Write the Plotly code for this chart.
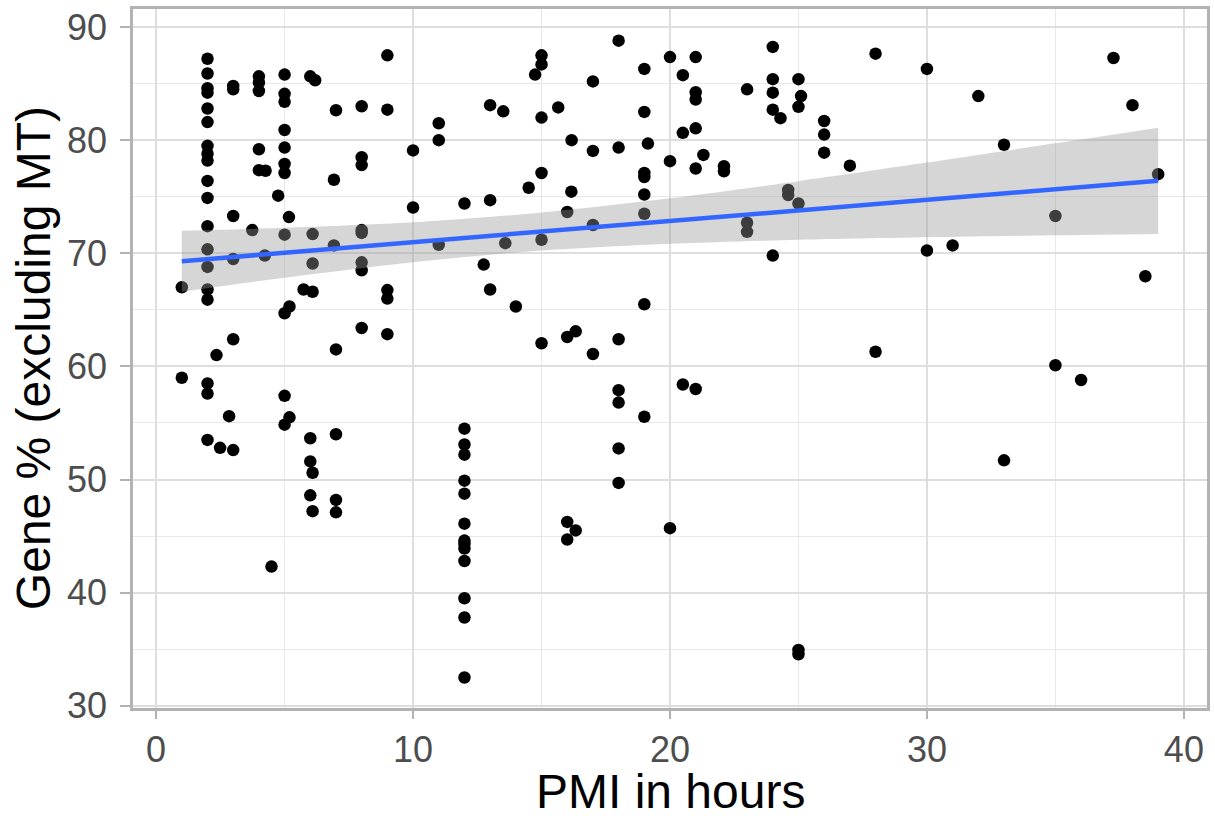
import numpy as np
import plotly.graph_objects as go

# PMI (hours) and Gene % (excluding MT)
PMI = [1, 1,
       2, 2, 2, 2, 2, 2, 2, 2, 2, 2, 2, 2, 2, 2, 2, 2, 2, 2, 2,
       2.35, 2.49, 2.84,
       3, 3, 3, 3, 3, 3,
       4, 4, 4, 4, 4, 4.26, 3.74, 4.23, 4.49,
       5, 5, 5, 5, 5, 5, 5, 5, 5, 5, 5, 4.75, 5.17, 5.19, 5.19,
       6, 6, 6, 6, 6.19, 6.09, 6.09, 6.09, 6.09, 6.09, 5.74,
       7, 7, 7, 7, 7, 6.92, 6.92,
       8, 8, 8, 8, 8, 8, 8, 8,
       9, 9, 9, 9, 9,
       10, 10,
       11, 11, 11,
       12, 12, 12, 12, 12, 12, 12, 12, 12, 12, 12, 12, 12, 12,
       12.75, 13, 13, 13, 13.51, 13.59, 14, 14.5, 14.75,
       15, 15, 15, 15, 15, 15,
       15.65, 16.17, 16.16, 16, 16, 16, 16, 16.33, 16.33,
       17, 17, 17, 17,
       18, 18, 18, 18, 18, 18, 18,
       19, 19, 19, 19, 19, 19, 19, 19, 19.14,
       20, 20, 20,
       20.5, 20.5, 20.5,
       21, 21, 21, 21, 21, 21, 21.3,
       22.1, 22.1,
       23, 23, 23,
       24, 24, 24, 24, 24, 24.3, 24.6, 24.6,
       25, 25, 25, 25, 25, 25.1,
       26, 26, 26,
       27,
       28, 28,
       30, 30,
       31,
       32,
       33, 33,
       35, 35,
       36,
       37.26,
       38,
       38.5,
       39]

GENE = [67.0, 59.0,
        87.2, 85.9, 84.6, 84.2, 82.8, 81.6, 79.5, 78.8, 78.2, 76.4, 74.9, 72.4, 70.35, 68.8, 66.8, 65.9, 58.5, 57.6, 53.5,
        61.0, 52.8, 55.6,
        84.8, 84.5, 73.3, 69.5, 62.4, 52.6,
        85.65, 85.1, 84.35, 79.2, 77.35, 77.3, 72.05, 69.8, 42.3,
        85.8, 84.1, 83.4, 80.9, 79.35, 77.9, 77.1, 71.65, 64.7, 57.4, 54.85, 75.1, 73.2, 65.3, 55.5,
        85.65, 53.65, 51.6, 48.6, 85.3, 71.7, 69.1, 66.6, 50.6, 47.2, 66.8,
        82.65, 61.5, 54.0, 48.2, 47.1, 76.5, 70.7,
        83.0, 78.5, 77.8, 72.05, 71.8, 69.2, 68.5, 63.4,
        87.5, 82.7, 66.75, 66.0, 62.85,
        79.1, 74.05,
        81.5, 80.0, 70.75,
        74.4, 54.5, 53.1, 52.2, 49.9, 48.75, 46.1, 44.6, 44.3, 43.9, 42.8, 39.5, 37.8, 32.5,
        69.0, 83.1, 74.7, 66.8, 82.55, 70.9, 65.3, 75.8, 85.8,
        87.5, 86.7, 82.0, 77.1, 71.2, 62.05,
        82.9, 80.0, 75.45, 73.65, 62.6, 46.25, 44.7, 63.1, 45.5,
        85.2, 79.05, 72.5, 61.1,
        88.8, 79.35, 62.4, 57.9, 56.8, 52.75, 49.7,
        86.3, 82.5, 77.1, 76.75, 75.2, 73.5, 65.5, 55.55, 79.7,
        87.35, 78.15, 45.7,
        85.75, 80.65, 58.4,
        87.35, 84.25, 83.6, 81.05, 77.5, 58.0, 78.7,
        77.7, 77.25,
        84.5, 72.7, 71.9,
        88.25, 85.4, 84.2, 82.7, 69.8, 81.95, 75.6, 75.15,
        85.4, 82.95, 74.4, 34.93, 34.55, 83.9,
        81.7, 80.5, 78.9,
        77.75,
        87.65, 61.3,
        86.3, 70.25,
        70.7,
        83.9,
        79.6, 51.7,
        73.3, 60.1,
        58.8,
        87.27,
        83.1,
        67.97,
        77.0]

# Linear smooth (geom_smooth, method = "lm"):
# fitted value and 95% confidence band at a few PMI values
SMOOTH_X = [1, 5, 10, 15, 20, 25, 30, 35, 39]
SMOOTH_FIT = [69.30, 70.05, 70.98, 71.92, 72.85, 73.79, 74.72, 75.66, 76.41]
SMOOTH_LO = [66.60, 67.85, 69.22, 70.24, 70.84, 71.20, 71.42, 71.60, 71.71]
SMOOTH_HI = [72.00, 72.25, 72.74, 73.60, 74.86, 76.38, 78.02, 79.72, 81.11]

X_TICKS = [0, 10, 20, 30, 40]
Y_TICKS = [30, 40, 50, 60, 70, 80, 90]
X_TITLE = "PMI in hours"
Y_TITLE = "Gene % (excluding MT)"

FONT = "Liberation Sans, Arial, sans-serif"

fig = go.Figure()
fig.add_trace(go.Scatter(x=PMI, y=GENE, mode="markers",
                         marker=dict(color="black", size=12.5, line=dict(width=0)),
                         showlegend=False))
# confidence band: lower edge, then upper edge filled down to it
fig.add_trace(go.Scatter(x=SMOOTH_X, y=SMOOTH_LO, mode="lines",
                         line=dict(width=0, shape="spline", smoothing=0.8, color="rgba(0,0,0,0)"),
                         showlegend=False, hoverinfo="skip"))
fig.add_trace(go.Scatter(x=SMOOTH_X, y=SMOOTH_HI, mode="lines", fill="tonexty",
                         fillcolor="rgba(153,153,153,0.4)",
                         line=dict(width=0, shape="spline", smoothing=0.8, color="rgba(0,0,0,0)"),
                         showlegend=False, hoverinfo="skip"))
fig.add_trace(go.Scatter(x=SMOOTH_X, y=SMOOTH_FIT, mode="lines",
                         line=dict(color="#3366FF", width=4.5),
                         showlegend=False))

axis_common = dict(
    showgrid=True, gridcolor="#DEDEDE", gridwidth=2,
    showline=True, linecolor="#B3B3B3", linewidth=2.5, mirror=True,
    ticks="outside", tickwidth=2, tickcolor="#B3B3B3",
    tickfont=dict(family=FONT, size=36, color="#4D4D4D"),
    zeroline=False,
)

fig.update_xaxes(range=[-0.9, 40.9], tickvals=X_TICKS, ticklen=8, ticklabelstandoff=0,
                 minor=dict(dtick=5, tick0=0, showgrid=True, gridcolor="#E8E8E8", gridwidth=1, ticks=""),
                 **axis_common)
fig.update_yaxes(range=[29.8, 91.6], tickvals=Y_TICKS, ticklen=10, ticklabelstandoff=6,
                 minor=dict(dtick=5, tick0=0, showgrid=True, gridcolor="#E8E8E8", gridwidth=1, ticks=""),
                 **axis_common)

fig.add_annotation(text=X_TITLE, xref="paper", yref="paper", x=0.5, y=-0.079,
                   xanchor="center", yanchor="top", showarrow=False,
                   font=dict(family=FONT, size=48, color="black"))
fig.add_annotation(text=Y_TITLE, xref="paper", yref="paper", x=-0.0925, y=0.5,
                   xanchor="center", yanchor="middle", textangle=-90, showarrow=False,
                   font=dict(family=FONT, size=48, color="black"))

fig.update_layout(width=1215, height=816,
                  margin=dict(l=133, r=5, t=9, b=108),
                  plot_bgcolor="white", paper_bgcolor="white")

fig.write_html("out.html")
